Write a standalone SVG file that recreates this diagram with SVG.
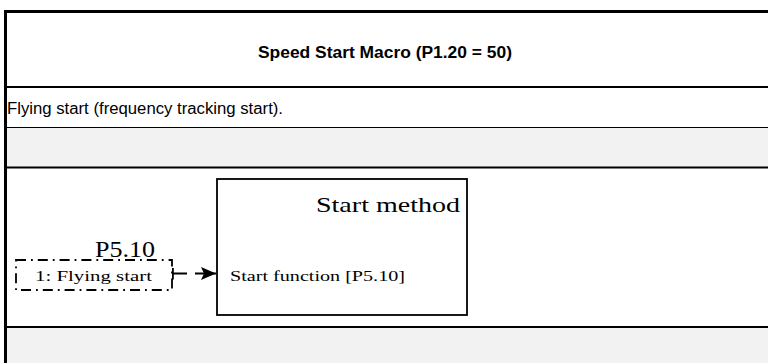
<svg xmlns="http://www.w3.org/2000/svg" width="768" height="363" viewBox="0 0 768 363">
<defs>
<style>
.rule{stroke:#000;fill:none}
.band{fill:#f2f2f2}
.sans{font-family:"Liberation Sans",Arial,sans-serif;fill:#000}
.serif{font-family:"Liberation Serif","Times New Roman",serif;fill:#000}
.dd{stroke:#000;stroke-width:1.8;fill:none;stroke-dasharray:10 5 1.8 5}
</style>
<marker id="arr" markerWidth="15" markerHeight="13" refX="15" refY="6.5" orient="auto" markerUnits="userSpaceOnUse">
<path d="M0,0 L15,6.5 L0,13 L3,6.5 Z" fill="#000"/>
</marker>
<marker id="bar" markerWidth="2" markerHeight="12" refX="1" refY="6" orient="auto" markerUnits="userSpaceOnUse">
<rect x="0" y="0" width="1.8" height="12" fill="#000"/>
</marker>
</defs>
<rect width="768" height="363" fill="#fff"/>
<g id="table">
<rect class="band" x="7" y="128" width="761" height="40"/>
<rect class="band" x="7" y="328" width="761" height="35"/>
<line class="rule" x1="4" y1="11.5" x2="768" y2="11.5" stroke-width="3"/>
<line class="rule" x1="4" y1="87" x2="768" y2="87" stroke-width="2"/>
<line class="rule" x1="4" y1="127.5" x2="768" y2="127.5" stroke-width="1.2"/>
<line class="rule" x1="4" y1="167.5" x2="768" y2="167.5" stroke-width="2"/>
<line class="rule" x1="4" y1="327" x2="768" y2="327" stroke-width="2"/>
<line class="rule" x1="5.5" y1="10" x2="5.5" y2="363" stroke-width="3"/>
<text class="sans" x="385" y="57.5" font-size="16" font-weight="bold" text-anchor="middle" textLength="254" lengthAdjust="spacingAndGlyphs">Speed Start Macro (P1.20 = 50)</text>
<text class="sans" x="7" y="114" font-size="16" textLength="276" lengthAdjust="spacingAndGlyphs">Flying start (frequency tracking start).</text>
</g>
<g id="node-p510">
<rect class="dd" x="16" y="260" width="156" height="30"/>
<text class="serif" x="95" y="257" font-size="23" textLength="60" lengthAdjust="spacingAndGlyphs">P5.10</text>
<text class="serif" x="35" y="281" font-size="14.5" textLength="117" lengthAdjust="spacingAndGlyphs">1: Flying start</text>
</g>
<g id="node-start-method">
<rect x="217" y="179" width="250" height="136" fill="#fff" stroke="#000" stroke-width="1.8"/>
<text class="serif" x="460" y="212" font-size="22" text-anchor="end" textLength="144" lengthAdjust="spacingAndGlyphs">Start method</text>
<text class="serif" x="230" y="281" font-size="14.5" textLength="175" lengthAdjust="spacingAndGlyphs">Start function [P5.10]</text>
</g>
<g id="connectors">
<line x1="173" y1="273.5" x2="216" y2="273.5" stroke="#000" stroke-width="1.8" stroke-dasharray="14 8 30" marker-start="url(#bar)" marker-end="url(#arr)"/>
</g>
</svg>
